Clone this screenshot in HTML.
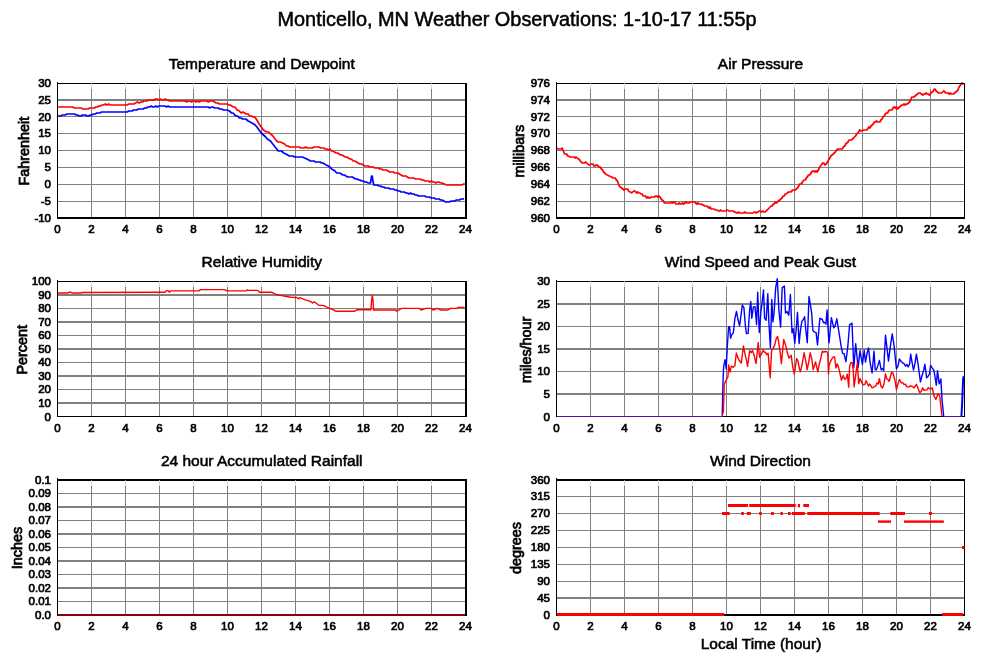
<!DOCTYPE html><html><head><meta charset="utf-8"><style>
html,body{margin:0;padding:0;background:#fff;width:999px;height:659px;overflow:hidden}
svg{display:block;will-change:transform} text{font-family:"Liberation Sans", sans-serif;fill:#000}
.t{font-size:15.5px;stroke:#000;stroke-width:0.55px}.yl{font-size:14.4px;stroke:#000;stroke-width:0.75px}.n{font-size:11.5px;stroke:#000;stroke-width:0.7px}.big{font-size:19.9px;stroke:#000;stroke-width:0.5px}
</style></head><body>
<svg width="999" height="659" viewBox="0 0 999 659">
<text x="517" y="26.3" text-anchor="middle" class="big">Monticello, MN Weather Observations: 1-10-17 11:55p</text>
<rect x="91" y="84" width="1" height="5" fill="#d8d8d8"/>
<rect x="91" y="89" width="1" height="128" fill="#808080"/>
<rect x="125" y="84" width="1" height="5" fill="#d8d8d8"/>
<rect x="125" y="89" width="1" height="128" fill="#808080"/>
<rect x="159" y="84" width="1" height="5" fill="#d8d8d8"/>
<rect x="159" y="89" width="1" height="128" fill="#808080"/>
<rect x="193" y="84" width="1" height="5" fill="#d8d8d8"/>
<rect x="193" y="89" width="1" height="128" fill="#808080"/>
<rect x="227" y="84" width="1" height="5" fill="#d8d8d8"/>
<rect x="227" y="89" width="1" height="128" fill="#808080"/>
<rect x="261" y="84" width="1" height="5" fill="#d8d8d8"/>
<rect x="261" y="89" width="1" height="128" fill="#808080"/>
<rect x="295" y="84" width="1" height="5" fill="#d8d8d8"/>
<rect x="295" y="89" width="1" height="128" fill="#808080"/>
<rect x="329" y="84" width="1" height="5" fill="#d8d8d8"/>
<rect x="329" y="89" width="1" height="128" fill="#808080"/>
<rect x="363" y="84" width="1" height="5" fill="#d8d8d8"/>
<rect x="363" y="89" width="1" height="128" fill="#808080"/>
<rect x="397" y="84" width="1" height="5" fill="#d8d8d8"/>
<rect x="397" y="89" width="1" height="128" fill="#808080"/>
<rect x="431" y="84" width="1" height="5" fill="#d8d8d8"/>
<rect x="431" y="89" width="1" height="128" fill="#808080"/>
<rect x="58" y="99" width="407" height="2" fill="#808080"/>
<rect x="58" y="116" width="407" height="1" fill="#808080"/>
<rect x="58" y="133" width="407" height="1" fill="#808080"/>
<rect x="58" y="150" width="407" height="1" fill="#808080"/>
<rect x="58" y="167" width="407" height="1" fill="#808080"/>
<rect x="58" y="184" width="407" height="1" fill="#808080"/>
<rect x="58" y="201" width="407" height="1" fill="#808080"/>
<text x="261.75" y="68.7" text-anchor="middle" class="t">Temperature and Dewpoint</text>
<text transform="translate(28.7,151.2) rotate(-90)" text-anchor="middle" class="yl">Fahrenheit</text>
<text x="51" y="87.0" text-anchor="end" class="n">30</text>
<text x="51" y="103.8" text-anchor="end" class="n">25</text>
<text x="51" y="120.6" text-anchor="end" class="n">20</text>
<text x="51" y="137.4" text-anchor="end" class="n">15</text>
<text x="51" y="154.2" text-anchor="end" class="n">10</text>
<text x="51" y="171.1" text-anchor="end" class="n">5</text>
<text x="51" y="187.9" text-anchor="end" class="n">0</text>
<text x="51" y="204.7" text-anchor="end" class="n">-5</text>
<text x="51" y="221.5" text-anchor="end" class="n">-10</text>
<text x="57.5" y="233.0" text-anchor="middle" class="n">0</text>
<text x="91.5" y="233.0" text-anchor="middle" class="n">2</text>
<text x="125.5" y="233.0" text-anchor="middle" class="n">4</text>
<text x="159.5" y="233.0" text-anchor="middle" class="n">6</text>
<text x="193.5" y="233.0" text-anchor="middle" class="n">8</text>
<text x="227.5" y="233.0" text-anchor="middle" class="n">10</text>
<text x="261.5" y="233.0" text-anchor="middle" class="n">12</text>
<text x="295.5" y="233.0" text-anchor="middle" class="n">14</text>
<text x="329.5" y="233.0" text-anchor="middle" class="n">16</text>
<text x="363.5" y="233.0" text-anchor="middle" class="n">18</text>
<text x="397.5" y="233.0" text-anchor="middle" class="n">20</text>
<text x="431.5" y="233.0" text-anchor="middle" class="n">22</text>
<text x="465.5" y="233.0" text-anchor="middle" class="n">24</text>
<rect x="590" y="84" width="1" height="5" fill="#d8d8d8"/>
<rect x="590" y="89" width="1" height="128" fill="#808080"/>
<rect x="624" y="84" width="1" height="5" fill="#d8d8d8"/>
<rect x="624" y="89" width="1" height="128" fill="#808080"/>
<rect x="658" y="84" width="1" height="5" fill="#d8d8d8"/>
<rect x="658" y="89" width="1" height="128" fill="#808080"/>
<rect x="692" y="84" width="1" height="5" fill="#d8d8d8"/>
<rect x="692" y="89" width="1" height="128" fill="#808080"/>
<rect x="726" y="84" width="1" height="5" fill="#d8d8d8"/>
<rect x="726" y="89" width="1" height="128" fill="#808080"/>
<rect x="760" y="84" width="1" height="5" fill="#d8d8d8"/>
<rect x="760" y="89" width="1" height="128" fill="#808080"/>
<rect x="794" y="84" width="1" height="5" fill="#d8d8d8"/>
<rect x="794" y="89" width="1" height="128" fill="#808080"/>
<rect x="828" y="84" width="1" height="5" fill="#d8d8d8"/>
<rect x="828" y="89" width="1" height="128" fill="#808080"/>
<rect x="862" y="84" width="1" height="5" fill="#d8d8d8"/>
<rect x="862" y="89" width="1" height="128" fill="#808080"/>
<rect x="896" y="84" width="1" height="5" fill="#d8d8d8"/>
<rect x="896" y="89" width="1" height="128" fill="#808080"/>
<rect x="930" y="84" width="1" height="5" fill="#d8d8d8"/>
<rect x="930" y="89" width="1" height="128" fill="#808080"/>
<rect x="557" y="99" width="407" height="2" fill="#808080"/>
<rect x="557" y="116" width="407" height="1" fill="#808080"/>
<rect x="557" y="133" width="407" height="1" fill="#808080"/>
<rect x="557" y="150" width="407" height="1" fill="#808080"/>
<rect x="557" y="167" width="407" height="1" fill="#808080"/>
<rect x="557" y="184" width="407" height="1" fill="#808080"/>
<rect x="557" y="201" width="407" height="1" fill="#808080"/>
<text x="760.5" y="68.7" text-anchor="middle" class="t">Air Pressure</text>
<text transform="translate(524.3,151.2) rotate(-90)" text-anchor="middle" class="yl">millibars</text>
<text x="550" y="87.0" text-anchor="end" class="n">976</text>
<text x="550" y="103.8" text-anchor="end" class="n">974</text>
<text x="550" y="120.6" text-anchor="end" class="n">972</text>
<text x="550" y="137.4" text-anchor="end" class="n">970</text>
<text x="550" y="154.2" text-anchor="end" class="n">968</text>
<text x="550" y="171.1" text-anchor="end" class="n">966</text>
<text x="550" y="187.9" text-anchor="end" class="n">964</text>
<text x="550" y="204.7" text-anchor="end" class="n">962</text>
<text x="550" y="221.5" text-anchor="end" class="n">960</text>
<text x="556.5" y="233.0" text-anchor="middle" class="n">0</text>
<text x="590.5" y="233.0" text-anchor="middle" class="n">2</text>
<text x="624.5" y="233.0" text-anchor="middle" class="n">4</text>
<text x="658.5" y="233.0" text-anchor="middle" class="n">6</text>
<text x="692.5" y="233.0" text-anchor="middle" class="n">8</text>
<text x="726.5" y="233.0" text-anchor="middle" class="n">10</text>
<text x="760.5" y="233.0" text-anchor="middle" class="n">12</text>
<text x="794.5" y="233.0" text-anchor="middle" class="n">14</text>
<text x="828.5" y="233.0" text-anchor="middle" class="n">16</text>
<text x="862.5" y="233.0" text-anchor="middle" class="n">18</text>
<text x="896.5" y="233.0" text-anchor="middle" class="n">20</text>
<text x="930.5" y="233.0" text-anchor="middle" class="n">22</text>
<text x="964.5" y="233.0" text-anchor="middle" class="n">24</text>
<rect x="91" y="282" width="1" height="5" fill="#d8d8d8"/>
<rect x="91" y="287" width="1" height="129" fill="#808080"/>
<rect x="125" y="282" width="1" height="5" fill="#d8d8d8"/>
<rect x="125" y="287" width="1" height="129" fill="#808080"/>
<rect x="159" y="282" width="1" height="5" fill="#d8d8d8"/>
<rect x="159" y="287" width="1" height="129" fill="#808080"/>
<rect x="193" y="282" width="1" height="5" fill="#d8d8d8"/>
<rect x="193" y="287" width="1" height="129" fill="#808080"/>
<rect x="227" y="282" width="1" height="5" fill="#d8d8d8"/>
<rect x="227" y="287" width="1" height="129" fill="#808080"/>
<rect x="261" y="282" width="1" height="5" fill="#d8d8d8"/>
<rect x="261" y="287" width="1" height="129" fill="#808080"/>
<rect x="295" y="282" width="1" height="5" fill="#d8d8d8"/>
<rect x="295" y="287" width="1" height="129" fill="#808080"/>
<rect x="329" y="282" width="1" height="5" fill="#d8d8d8"/>
<rect x="329" y="287" width="1" height="129" fill="#808080"/>
<rect x="363" y="282" width="1" height="5" fill="#d8d8d8"/>
<rect x="363" y="287" width="1" height="129" fill="#808080"/>
<rect x="397" y="282" width="1" height="5" fill="#d8d8d8"/>
<rect x="397" y="287" width="1" height="129" fill="#808080"/>
<rect x="431" y="282" width="1" height="5" fill="#d8d8d8"/>
<rect x="431" y="287" width="1" height="129" fill="#808080"/>
<rect x="58" y="294" width="407" height="2" fill="#808080"/>
<rect x="58" y="308" width="407" height="1" fill="#808080"/>
<rect x="58" y="321" width="407" height="2" fill="#808080"/>
<rect x="58" y="335" width="407" height="1" fill="#808080"/>
<rect x="58" y="348" width="407" height="2" fill="#808080"/>
<rect x="58" y="362" width="407" height="1" fill="#808080"/>
<rect x="58" y="375" width="407" height="2" fill="#808080"/>
<rect x="58" y="389" width="407" height="1" fill="#808080"/>
<rect x="58" y="402" width="407" height="2" fill="#808080"/>
<text x="261.75" y="267.3" text-anchor="middle" class="t">Relative Humidity</text>
<text transform="translate(26.7,349.8) rotate(-90)" text-anchor="middle" class="yl">Percent</text>
<text x="51" y="285.0" text-anchor="end" class="n">100</text>
<text x="51" y="298.6" text-anchor="end" class="n">90</text>
<text x="51" y="312.1" text-anchor="end" class="n">80</text>
<text x="51" y="325.6" text-anchor="end" class="n">70</text>
<text x="51" y="339.2" text-anchor="end" class="n">60</text>
<text x="51" y="352.8" text-anchor="end" class="n">50</text>
<text x="51" y="366.3" text-anchor="end" class="n">40</text>
<text x="51" y="379.9" text-anchor="end" class="n">30</text>
<text x="51" y="393.4" text-anchor="end" class="n">20</text>
<text x="51" y="406.9" text-anchor="end" class="n">10</text>
<text x="51" y="420.5" text-anchor="end" class="n">0</text>
<text x="57.5" y="432.0" text-anchor="middle" class="n">0</text>
<text x="91.5" y="432.0" text-anchor="middle" class="n">2</text>
<text x="125.5" y="432.0" text-anchor="middle" class="n">4</text>
<text x="159.5" y="432.0" text-anchor="middle" class="n">6</text>
<text x="193.5" y="432.0" text-anchor="middle" class="n">8</text>
<text x="227.5" y="432.0" text-anchor="middle" class="n">10</text>
<text x="261.5" y="432.0" text-anchor="middle" class="n">12</text>
<text x="295.5" y="432.0" text-anchor="middle" class="n">14</text>
<text x="329.5" y="432.0" text-anchor="middle" class="n">16</text>
<text x="363.5" y="432.0" text-anchor="middle" class="n">18</text>
<text x="397.5" y="432.0" text-anchor="middle" class="n">20</text>
<text x="431.5" y="432.0" text-anchor="middle" class="n">22</text>
<text x="465.5" y="432.0" text-anchor="middle" class="n">24</text>
<rect x="590" y="282" width="1" height="5" fill="#d8d8d8"/>
<rect x="590" y="287" width="1" height="129" fill="#808080"/>
<rect x="624" y="282" width="1" height="5" fill="#d8d8d8"/>
<rect x="624" y="287" width="1" height="129" fill="#808080"/>
<rect x="658" y="282" width="1" height="5" fill="#d8d8d8"/>
<rect x="658" y="287" width="1" height="129" fill="#808080"/>
<rect x="692" y="282" width="1" height="5" fill="#d8d8d8"/>
<rect x="692" y="287" width="1" height="129" fill="#808080"/>
<rect x="726" y="282" width="1" height="5" fill="#d8d8d8"/>
<rect x="726" y="287" width="1" height="129" fill="#808080"/>
<rect x="760" y="282" width="1" height="5" fill="#d8d8d8"/>
<rect x="760" y="287" width="1" height="129" fill="#808080"/>
<rect x="794" y="282" width="1" height="5" fill="#d8d8d8"/>
<rect x="794" y="287" width="1" height="129" fill="#808080"/>
<rect x="828" y="282" width="1" height="5" fill="#d8d8d8"/>
<rect x="828" y="287" width="1" height="129" fill="#808080"/>
<rect x="862" y="282" width="1" height="5" fill="#d8d8d8"/>
<rect x="862" y="287" width="1" height="129" fill="#808080"/>
<rect x="896" y="282" width="1" height="5" fill="#d8d8d8"/>
<rect x="896" y="287" width="1" height="129" fill="#808080"/>
<rect x="930" y="282" width="1" height="5" fill="#d8d8d8"/>
<rect x="930" y="287" width="1" height="129" fill="#808080"/>
<rect x="557" y="303" width="407" height="2" fill="#808080"/>
<rect x="557" y="326" width="407" height="1" fill="#808080"/>
<rect x="557" y="348" width="407" height="2" fill="#808080"/>
<rect x="557" y="371" width="407" height="1" fill="#808080"/>
<rect x="557" y="393" width="407" height="2" fill="#808080"/>
<text x="760.5" y="267.3" text-anchor="middle" class="t">Wind Speed and Peak Gust</text>
<text transform="translate(530.7,349.8) rotate(-90)" text-anchor="middle" class="yl">miles/hour</text>
<text x="550" y="285.0" text-anchor="end" class="n">30</text>
<text x="550" y="307.6" text-anchor="end" class="n">25</text>
<text x="550" y="330.2" text-anchor="end" class="n">20</text>
<text x="550" y="352.8" text-anchor="end" class="n">15</text>
<text x="550" y="375.3" text-anchor="end" class="n">10</text>
<text x="550" y="397.9" text-anchor="end" class="n">5</text>
<text x="550" y="420.5" text-anchor="end" class="n">0</text>
<text x="556.5" y="432.0" text-anchor="middle" class="n">0</text>
<text x="590.5" y="432.0" text-anchor="middle" class="n">2</text>
<text x="624.5" y="432.0" text-anchor="middle" class="n">4</text>
<text x="658.5" y="432.0" text-anchor="middle" class="n">6</text>
<text x="692.5" y="432.0" text-anchor="middle" class="n">8</text>
<text x="726.5" y="432.0" text-anchor="middle" class="n">10</text>
<text x="760.5" y="432.0" text-anchor="middle" class="n">12</text>
<text x="794.5" y="432.0" text-anchor="middle" class="n">14</text>
<text x="828.5" y="432.0" text-anchor="middle" class="n">16</text>
<text x="862.5" y="432.0" text-anchor="middle" class="n">18</text>
<text x="896.5" y="432.0" text-anchor="middle" class="n">20</text>
<text x="930.5" y="432.0" text-anchor="middle" class="n">22</text>
<text x="964.5" y="432.0" text-anchor="middle" class="n">24</text>
<rect x="91" y="481" width="1" height="5" fill="#d8d8d8"/>
<rect x="91" y="486" width="1" height="128" fill="#808080"/>
<rect x="125" y="481" width="1" height="5" fill="#d8d8d8"/>
<rect x="125" y="486" width="1" height="128" fill="#808080"/>
<rect x="159" y="481" width="1" height="5" fill="#d8d8d8"/>
<rect x="159" y="486" width="1" height="128" fill="#808080"/>
<rect x="193" y="481" width="1" height="5" fill="#d8d8d8"/>
<rect x="193" y="486" width="1" height="128" fill="#808080"/>
<rect x="227" y="481" width="1" height="5" fill="#d8d8d8"/>
<rect x="227" y="486" width="1" height="128" fill="#808080"/>
<rect x="261" y="481" width="1" height="5" fill="#d8d8d8"/>
<rect x="261" y="486" width="1" height="128" fill="#808080"/>
<rect x="295" y="481" width="1" height="5" fill="#d8d8d8"/>
<rect x="295" y="486" width="1" height="128" fill="#808080"/>
<rect x="329" y="481" width="1" height="5" fill="#d8d8d8"/>
<rect x="329" y="486" width="1" height="128" fill="#808080"/>
<rect x="363" y="481" width="1" height="5" fill="#d8d8d8"/>
<rect x="363" y="486" width="1" height="128" fill="#808080"/>
<rect x="397" y="481" width="1" height="5" fill="#d8d8d8"/>
<rect x="397" y="486" width="1" height="128" fill="#808080"/>
<rect x="431" y="481" width="1" height="5" fill="#d8d8d8"/>
<rect x="431" y="486" width="1" height="128" fill="#808080"/>
<rect x="58" y="493" width="407" height="1" fill="#808080"/>
<rect x="58" y="506" width="407" height="2" fill="#808080"/>
<rect x="58" y="520" width="407" height="1" fill="#808080"/>
<rect x="58" y="533" width="407" height="2" fill="#808080"/>
<rect x="58" y="547" width="407" height="1" fill="#808080"/>
<rect x="58" y="560" width="407" height="2" fill="#808080"/>
<rect x="58" y="574" width="407" height="1" fill="#808080"/>
<rect x="58" y="587" width="407" height="2" fill="#808080"/>
<rect x="58" y="601" width="407" height="1" fill="#808080"/>
<text x="261.75" y="465.9" text-anchor="middle" class="t">24 hour Accumulated Rainfall</text>
<text transform="translate(22.3,548.0) rotate(-90)" text-anchor="middle" class="yl">Inches</text>
<text x="51" y="483.5" text-anchor="end" class="n">0.1</text>
<text x="51" y="497.0" text-anchor="end" class="n">0.09</text>
<text x="51" y="510.5" text-anchor="end" class="n">0.08</text>
<text x="51" y="524.0" text-anchor="end" class="n">0.07</text>
<text x="51" y="537.5" text-anchor="end" class="n">0.06</text>
<text x="51" y="551.0" text-anchor="end" class="n">0.05</text>
<text x="51" y="564.5" text-anchor="end" class="n">0.04</text>
<text x="51" y="578.0" text-anchor="end" class="n">0.03</text>
<text x="51" y="591.5" text-anchor="end" class="n">0.02</text>
<text x="51" y="605.0" text-anchor="end" class="n">0.01</text>
<text x="51" y="618.5" text-anchor="end" class="n">0.0</text>
<text x="57.5" y="630.0" text-anchor="middle" class="n">0</text>
<text x="91.5" y="630.0" text-anchor="middle" class="n">2</text>
<text x="125.5" y="630.0" text-anchor="middle" class="n">4</text>
<text x="159.5" y="630.0" text-anchor="middle" class="n">6</text>
<text x="193.5" y="630.0" text-anchor="middle" class="n">8</text>
<text x="227.5" y="630.0" text-anchor="middle" class="n">10</text>
<text x="261.5" y="630.0" text-anchor="middle" class="n">12</text>
<text x="295.5" y="630.0" text-anchor="middle" class="n">14</text>
<text x="329.5" y="630.0" text-anchor="middle" class="n">16</text>
<text x="363.5" y="630.0" text-anchor="middle" class="n">18</text>
<text x="397.5" y="630.0" text-anchor="middle" class="n">20</text>
<text x="431.5" y="630.0" text-anchor="middle" class="n">22</text>
<text x="465.5" y="630.0" text-anchor="middle" class="n">24</text>
<rect x="590" y="481" width="1" height="5" fill="#d8d8d8"/>
<rect x="590" y="486" width="1" height="128" fill="#808080"/>
<rect x="624" y="481" width="1" height="5" fill="#d8d8d8"/>
<rect x="624" y="486" width="1" height="128" fill="#808080"/>
<rect x="658" y="481" width="1" height="5" fill="#d8d8d8"/>
<rect x="658" y="486" width="1" height="128" fill="#808080"/>
<rect x="692" y="481" width="1" height="5" fill="#d8d8d8"/>
<rect x="692" y="486" width="1" height="128" fill="#808080"/>
<rect x="726" y="481" width="1" height="5" fill="#d8d8d8"/>
<rect x="726" y="486" width="1" height="128" fill="#808080"/>
<rect x="760" y="481" width="1" height="5" fill="#d8d8d8"/>
<rect x="760" y="486" width="1" height="128" fill="#808080"/>
<rect x="794" y="481" width="1" height="5" fill="#d8d8d8"/>
<rect x="794" y="486" width="1" height="128" fill="#808080"/>
<rect x="828" y="481" width="1" height="5" fill="#d8d8d8"/>
<rect x="828" y="486" width="1" height="128" fill="#808080"/>
<rect x="862" y="481" width="1" height="5" fill="#d8d8d8"/>
<rect x="862" y="486" width="1" height="128" fill="#808080"/>
<rect x="896" y="481" width="1" height="5" fill="#d8d8d8"/>
<rect x="896" y="486" width="1" height="128" fill="#808080"/>
<rect x="930" y="481" width="1" height="5" fill="#d8d8d8"/>
<rect x="930" y="486" width="1" height="128" fill="#808080"/>
<rect x="557" y="496" width="407" height="1" fill="#808080"/>
<rect x="557" y="513" width="407" height="1" fill="#808080"/>
<rect x="557" y="530" width="407" height="1" fill="#808080"/>
<rect x="557" y="547" width="407" height="1" fill="#808080"/>
<rect x="557" y="564" width="407" height="1" fill="#808080"/>
<rect x="557" y="581" width="407" height="1" fill="#808080"/>
<rect x="557" y="597" width="407" height="2" fill="#808080"/>
<text x="760.5" y="465.9" text-anchor="middle" class="t">Wind Direction</text>
<text transform="translate(520.5,548.0) rotate(-90)" text-anchor="middle" class="yl">degrees</text>
<text x="550" y="483.5" text-anchor="end" class="n">360</text>
<text x="550" y="500.4" text-anchor="end" class="n">315</text>
<text x="550" y="517.2" text-anchor="end" class="n">270</text>
<text x="550" y="534.1" text-anchor="end" class="n">225</text>
<text x="550" y="551.0" text-anchor="end" class="n">180</text>
<text x="550" y="567.9" text-anchor="end" class="n">135</text>
<text x="550" y="584.8" text-anchor="end" class="n">90</text>
<text x="550" y="601.6" text-anchor="end" class="n">45</text>
<text x="550" y="618.5" text-anchor="end" class="n">0</text>
<text x="556.5" y="630.0" text-anchor="middle" class="n">0</text>
<text x="590.5" y="630.0" text-anchor="middle" class="n">2</text>
<text x="624.5" y="630.0" text-anchor="middle" class="n">4</text>
<text x="658.5" y="630.0" text-anchor="middle" class="n">6</text>
<text x="692.5" y="630.0" text-anchor="middle" class="n">8</text>
<text x="726.5" y="630.0" text-anchor="middle" class="n">10</text>
<text x="760.5" y="630.0" text-anchor="middle" class="n">12</text>
<text x="794.5" y="630.0" text-anchor="middle" class="n">14</text>
<text x="828.5" y="630.0" text-anchor="middle" class="n">16</text>
<text x="862.5" y="630.0" text-anchor="middle" class="n">18</text>
<text x="896.5" y="630.0" text-anchor="middle" class="n">20</text>
<text x="930.5" y="630.0" text-anchor="middle" class="n">22</text>
<text x="964.5" y="630.0" text-anchor="middle" class="n">24</text>
<polyline points="58.0,107.0 59.2,107.0 60.9,107.0 62.6,107.0 64.2,107.0 65.9,107.0 67.6,107.0 69.3,107.0 71.0,107.0 72.6,107.0 74.3,108.0 76.0,108.0 77.8,108.0 79.5,108.0 81.2,108.0 83.0,109.0 84.7,109.0 86.3,109.0 88.0,109.0 89.7,108.0 91.3,108.0 92.8,108.0 94.4,108.0 95.9,107.0 97.5,107.0 99.0,106.0 100.5,106.0 102.0,105.0 103.5,105.0 105.2,104.0 106.8,105.0 108.5,104.0 110.1,105.0 111.8,105.0 113.4,105.0 115.0,105.0 116.7,105.0 118.5,105.0 120.2,105.0 122.0,105.0 123.7,105.0 125.5,105.0 127.1,105.0 128.8,104.0 130.4,104.0 132.0,104.0 133.8,104.0 135.6,103.0 137.3,102.0 139.1,103.0 140.9,102.0 142.4,102.0 144.0,101.0 145.5,101.0 147.1,101.0 148.6,100.0 150.4,100.0 152.2,100.0 154.0,100.0 155.6,99.0 157.1,99.0 158.7,100.0 160.3,99.0 161.9,100.0 163.4,100.0 165.0,99.0 166.5,100.0 168.0,100.0 169.5,101.0 171.0,101.0 172.6,101.0 174.1,101.0 175.7,101.0 177.3,101.0 178.9,101.0 180.4,101.0 182.0,101.0 183.6,101.0 185.1,101.0 186.7,102.0 188.3,101.0 189.9,101.0 191.4,102.0 193.0,101.0 194.5,101.0 196.1,102.0 197.6,101.0 199.1,102.0 200.7,101.0 202.2,101.0 203.7,101.0 205.2,101.0 206.8,101.0 208.3,102.0 209.8,101.0 211.4,101.0 212.9,101.0 214.6,102.0 216.2,103.0 217.8,103.0 219.5,104.0 221.0,104.0 222.6,104.0 224.1,104.0 225.7,104.0 227.2,104.0 228.7,105.0 230.3,105.0 231.8,106.0 233.4,107.0 234.9,107.0 237.1,110.0 239.3,111.0 241.1,113.0 242.8,112.0 244.6,113.0 246.3,114.0 248.1,114.0 249.8,116.0 251.4,116.0 253.0,117.0 254.7,117.0 256.9,120.0 259.1,124.0 261.3,127.0 263.5,130.0 265.0,131.0 266.8,132.0 268.7,132.0 270.5,134.0 272.0,135.0 273.6,137.0 275.1,139.0 276.7,141.0 278.2,142.0 280.4,142.0 282.6,143.0 284.6,144.0 286.5,146.0 288.1,146.0 289.6,147.0 291.1,147.0 292.7,147.0 294.2,147.0 295.8,147.0 297.4,147.0 299.1,147.0 300.8,148.0 302.4,148.0 304.1,148.0 305.7,147.0 307.4,148.0 309.0,148.0 310.7,148.0 312.3,148.0 314.0,147.0 315.7,147.0 317.3,147.0 319.0,147.0 320.6,148.0 322.1,148.0 323.7,148.0 325.3,149.0 326.9,149.0 328.4,150.0 330.0,149.0 331.5,151.0 333.0,151.0 334.5,152.0 336.1,153.0 337.6,153.0 339.1,154.0 340.6,155.0 342.1,155.0 343.7,156.0 345.2,157.0 346.8,157.0 348.4,158.0 350.0,159.0 351.5,159.0 353.1,161.0 354.8,161.0 356.5,162.0 358.2,163.0 359.9,164.0 361.6,164.0 363.3,165.0 365.0,166.0 366.6,166.0 368.3,166.0 370.0,167.0 371.6,167.0 373.2,167.0 374.9,168.0 376.6,168.0 378.2,168.0 379.9,169.0 381.5,169.0 383.1,170.0 384.8,170.0 386.4,170.0 388.1,171.0 389.8,172.0 391.4,172.0 393.1,172.0 394.7,173.0 396.3,173.0 397.9,173.0 399.5,174.0 401.1,175.0 402.6,176.0 404.2,176.0 405.8,176.0 407.4,177.0 409.0,178.0 410.6,178.0 412.1,178.0 413.7,178.0 415.3,179.0 416.9,179.0 418.4,179.0 420.0,179.0 421.7,180.0 423.4,180.0 425.0,181.0 426.7,181.0 428.2,181.0 429.8,182.0 431.3,181.0 432.9,182.0 434.4,182.0 435.9,183.0 437.5,182.0 439.0,182.0 440.6,183.0 442.1,183.0 444.3,184.0 446.5,185.0 448.0,185.0 449.6,185.0 451.1,185.0 452.7,185.0 454.2,185.0 455.7,185.0 457.3,185.0 458.8,185.0 460.4,185.0 461.9,185.0 464.7,183.6" fill="none" stroke="#ff0000" stroke-width="1.7" stroke-linejoin="round"/>
<polyline points="58.0,116.0 59.2,116.0 60.7,116.0 62.3,115.0 63.8,115.0 65.3,115.0 66.9,114.0 68.4,114.0 70.0,114.0 71.5,114.0 73.0,114.0 74.6,114.0 76.1,115.0 77.7,115.0 79.2,116.0 80.8,116.0 82.3,115.0 83.9,115.0 85.5,115.0 87.1,116.0 88.6,116.0 90.2,115.0 91.8,115.0 93.5,114.0 95.2,114.0 96.8,113.0 98.4,113.0 99.9,113.0 101.5,112.0 103.0,112.0 104.6,112.0 106.1,112.0 107.6,112.0 109.1,112.0 110.7,112.0 112.2,112.0 113.7,112.0 115.2,112.0 116.7,112.0 118.5,112.0 120.2,112.0 122.0,112.0 123.7,112.0 125.5,112.0 127.1,112.0 128.8,111.0 130.4,111.0 132.0,111.0 133.6,110.0 135.2,110.0 136.8,110.0 138.3,109.0 139.9,109.0 141.5,109.0 143.1,109.0 144.8,108.0 146.4,108.0 148.0,107.0 149.7,107.0 151.2,106.0 152.8,107.0 154.3,107.0 155.8,106.0 157.3,107.0 158.9,106.0 160.4,106.0 161.9,106.0 163.5,106.0 165.0,106.0 166.5,107.0 168.1,106.0 169.6,107.0 171.2,107.0 172.7,107.0 174.3,107.0 175.8,107.0 177.4,107.0 178.9,107.0 180.5,107.0 182.0,107.0 183.5,107.0 185.0,107.0 186.5,107.0 188.0,107.0 189.5,107.0 191.0,107.0 192.5,107.0 194.0,107.0 195.5,107.0 197.0,107.0 198.5,107.0 200.1,107.0 201.7,107.0 203.3,107.0 204.9,107.0 206.5,107.0 208.1,107.0 209.7,108.0 211.3,107.0 212.9,107.0 214.7,108.0 216.4,108.0 218.2,108.0 219.9,109.0 221.7,109.0 223.5,110.0 225.4,110.0 227.2,110.0 229.4,111.0 231.6,113.0 233.1,113.0 234.7,115.0 236.2,116.0 237.8,116.0 239.3,118.0 241.0,118.0 242.6,119.0 244.2,119.0 245.9,119.0 248.1,121.0 250.3,122.0 251.9,123.0 253.6,124.0 255.2,125.0 256.9,127.0 259.1,130.0 261.3,133.0 263.5,135.0 265.7,137.0 267.3,139.0 268.9,140.0 270.5,141.0 272.0,143.0 273.6,145.0 275.1,147.0 276.7,149.0 278.2,151.0 279.9,151.0 281.5,151.0 283.7,153.0 285.9,154.0 287.7,155.0 289.4,156.0 291.2,156.0 292.9,156.0 294.7,157.0 296.2,157.0 297.8,157.0 299.3,157.0 300.9,157.0 302.4,157.0 304.6,158.0 306.8,159.0 308.7,160.0 310.5,161.0 312.4,161.0 313.9,161.0 315.4,162.0 317.0,162.0 318.5,162.0 320.0,162.0 321.5,163.0 323.0,163.0 324.5,164.0 326.3,165.0 328.2,166.0 330.0,167.0 331.6,169.0 333.3,170.0 335.0,171.0 336.6,173.0 338.2,173.0 339.7,173.0 341.3,174.0 342.9,175.0 344.5,175.0 346.0,176.0 347.6,177.0 349.2,177.0 350.7,177.0 352.3,177.0 353.9,178.0 355.5,179.0 357.0,179.0 358.6,180.0 360.1,180.0 361.7,181.0 363.2,181.0 364.8,182.0 366.3,182.0 368.4,183.0 370.5,183.0 371.6,176.0 372.2,176.0 372.8,180.0 373.8,185.0 375.4,185.0 377.1,185.0 378.8,186.0 380.4,186.0 382.1,187.0 383.7,187.0 385.4,188.0 387.0,188.0 388.6,188.0 390.1,189.0 391.7,189.0 393.3,189.0 394.9,190.0 396.4,190.0 398.0,191.0 399.6,191.0 401.1,192.0 402.7,192.0 404.3,192.0 405.9,193.0 407.4,193.0 409.0,194.0 410.6,193.0 412.1,194.0 413.7,194.0 415.3,195.0 416.9,195.0 418.4,196.0 420.0,196.0 421.6,196.0 423.2,196.0 424.8,196.0 426.3,197.0 427.9,197.0 429.5,197.0 431.1,198.0 432.7,198.0 434.2,198.0 435.8,199.0 437.4,199.0 439.0,199.0 440.5,200.0 442.1,200.0 443.9,201.0 445.8,202.0 447.6,202.0 449.4,202.0 451.1,201.0 452.9,201.0 454.6,201.0 456.4,200.0 457.9,200.0 459.5,200.0 461.0,199.0 462.6,199.0 464.1,198.8" fill="none" stroke="#0000ff" stroke-width="1.7" stroke-linejoin="round"/>
<polyline points="557.0,148.0 558.0,149.0 559.0,149.0 560.1,149.0 561.1,149.0 562.1,148.0 563.4,151.0 564.6,154.0 565.6,154.0 566.7,154.0 567.7,156.0 568.7,156.0 569.7,157.0 570.8,157.0 571.8,157.0 572.9,157.0 574.0,157.0 575.0,158.0 576.1,157.0 577.1,158.0 578.1,159.0 579.1,159.0 580.2,161.0 581.2,162.0 582.3,163.0 583.4,163.0 584.6,163.0 585.8,162.0 586.8,163.0 587.8,164.0 588.8,165.0 589.8,165.0 590.9,164.0 591.9,164.0 592.9,164.0 593.9,166.0 594.9,166.0 596.0,165.0 597.0,165.0 598.1,166.0 599.2,167.0 600.3,167.0 601.4,169.0 602.5,170.0 603.6,172.0 604.7,173.0 605.8,174.0 606.8,175.0 607.8,175.0 608.8,176.0 609.9,176.0 610.9,177.0 611.9,177.0 613.0,178.0 614.1,178.0 615.2,178.0 616.3,180.0 617.4,181.0 619.2,186.0 620.4,187.0 621.6,188.0 622.8,189.0 624.0,190.0 625.2,189.0 626.5,189.0 627.7,189.0 628.7,191.0 629.7,192.0 630.7,192.0 631.7,193.0 632.7,192.0 633.7,191.0 634.7,191.0 635.8,192.0 636.8,193.0 637.9,192.0 638.9,193.0 640.0,193.0 641.0,194.0 642.1,194.0 643.3,196.0 644.4,196.0 645.5,196.0 646.6,198.0 647.8,197.0 648.9,198.0 650.0,198.0 651.1,197.0 652.2,197.0 653.4,197.0 654.5,197.0 655.6,196.0 656.7,196.0 657.8,197.0 658.9,196.0 660.0,197.0 661.1,199.0 662.2,200.0 663.3,201.0 664.4,203.0 665.4,203.0 666.5,203.0 667.5,203.0 668.6,203.0 669.6,203.0 670.6,203.0 671.7,202.0 672.7,203.0 673.8,202.0 674.8,202.0 675.9,204.0 677.0,204.0 678.1,204.0 679.2,203.0 680.3,204.0 681.4,204.0 682.5,203.0 683.6,204.0 684.7,203.0 685.8,202.0 686.9,203.0 688.0,203.0 689.1,203.0 690.2,202.0 691.3,202.0 692.4,202.0 693.5,202.0 694.6,202.0 695.7,203.0 696.8,204.0 697.9,203.0 699.0,204.0 700.1,204.0 701.3,204.0 702.4,205.0 703.5,205.0 704.6,206.0 705.7,206.0 706.8,206.0 707.9,207.0 709.0,208.0 710.1,207.0 711.2,209.0 712.3,209.0 713.3,209.0 714.3,209.0 715.3,210.0 716.3,210.0 717.3,210.0 718.3,211.0 719.4,211.0 720.4,210.0 721.5,211.0 722.5,211.0 723.6,211.0 724.6,211.0 725.7,211.0 726.7,210.0 727.8,210.0 728.8,211.0 729.9,211.0 731.0,211.0 732.1,211.0 733.2,211.0 734.3,212.0 735.4,212.0 736.5,213.0 737.6,213.0 738.7,212.0 739.7,213.0 740.8,213.0 741.8,213.0 742.8,213.0 743.8,213.0 744.9,212.0 745.9,213.0 746.9,213.0 747.9,213.0 749.0,213.0 750.0,213.0 751.0,213.0 752.0,213.0 753.1,213.0 754.1,212.0 755.1,212.0 756.1,213.0 757.2,212.0 758.2,212.0 759.2,211.0 760.2,211.0 761.5,212.0 762.8,211.0 764.1,212.0 765.1,212.0 766.1,211.0 767.2,210.0 768.2,209.0 769.2,208.0 770.2,207.0 771.2,206.0 772.2,206.0 773.2,204.0 774.2,204.0 775.2,202.0 776.2,203.0 777.4,202.0 778.5,201.0 779.7,200.0 780.8,199.0 782.0,198.0 783.1,196.0 784.2,196.0 785.2,194.0 786.3,194.0 787.3,193.0 788.4,192.0 789.5,192.0 790.7,192.0 791.8,191.0 792.9,190.0 794.1,190.0 795.2,190.0 796.3,189.0 797.5,188.0 798.6,186.0 799.7,184.0 800.9,184.0 802.0,183.0 803.1,181.0 804.1,180.0 805.2,180.0 806.3,178.0 807.4,177.0 808.4,175.0 809.5,175.0 810.6,174.0 811.6,172.0 812.7,171.0 813.8,171.0 815.0,172.0 816.1,171.0 817.2,172.0 818.3,170.0 819.3,168.0 820.4,166.0 821.4,165.0 822.5,163.0 823.8,163.0 825.0,165.0 826.3,164.0 827.4,162.0 828.6,160.0 829.8,158.0 830.9,156.0 832.0,155.0 833.2,154.0 834.3,153.0 835.4,152.0 836.6,150.0 837.7,149.0 838.9,149.0 840.0,149.0 841.1,149.0 842.3,149.0 843.4,147.0 844.6,146.0 845.7,144.0 846.8,143.0 848.0,142.0 849.1,140.0 850.2,140.0 851.4,140.0 852.5,139.0 853.6,138.0 854.6,137.0 855.6,136.0 856.7,134.0 857.7,133.0 858.7,132.0 859.7,130.0 860.9,131.0 862.0,131.0 863.2,130.0 864.4,130.0 865.5,130.0 866.6,130.0 867.7,129.0 868.8,127.0 869.9,128.0 871.0,126.0 872.1,125.0 873.2,124.0 874.3,122.0 875.4,122.0 876.5,121.0 877.6,122.0 878.7,122.0 879.8,122.0 880.9,120.0 882.0,119.0 883.1,117.0 884.2,116.0 885.3,114.0 886.4,113.0 887.5,113.0 888.6,111.0 889.7,110.0 890.8,110.0 891.9,110.0 893.0,108.0 894.1,107.0 895.2,108.0 896.3,107.0 897.4,109.0 898.5,108.0 899.6,107.0 900.7,106.0 901.8,105.0 902.9,105.0 904.0,104.0 905.2,105.0 906.3,104.0 907.4,104.0 908.5,103.0 909.6,102.0 910.7,100.0 911.8,97.0 912.9,97.0 914.0,97.0 915.1,96.0 916.2,95.0 917.5,94.0 918.7,93.0 920.0,93.0 921.4,94.0 922.8,95.0 923.9,94.0 925.0,94.0 926.1,93.0 927.2,94.0 928.3,94.0 929.4,95.0 930.5,94.0 931.6,92.0 932.7,92.0 933.8,90.0 934.9,89.0 936.2,91.0 937.4,92.0 938.7,93.0 939.7,93.0 940.7,93.0 941.7,93.0 942.7,92.0 943.7,91.0 944.8,92.0 945.9,93.0 947.0,93.0 948.1,93.0 949.2,94.0 950.3,93.0 951.4,94.0 952.5,94.0 953.6,94.0 954.7,93.0 955.8,92.0 956.9,91.0 958.0,90.0 959.1,87.0 960.5,85.0 961.9,83.0 963.5,84.4" fill="none" stroke="#ff0000" stroke-width="1.7" stroke-linejoin="round"/>
<polyline points="58.0,293.0 68.0,293.0 69.0,292.2 71.0,292.2 72.0,293.0 81.0,293.0 82.0,292.5 160.0,292.3 165.0,292.3 166.5,290.6 168.0,290.6 169.5,292.2 170.5,290.9 198.9,290.9 200.5,289.6 224.1,289.6 227.3,290.9 246.2,290.9 247.3,289.7 248.3,290.4 257.8,290.4 259.4,292.3 272.1,292.3 276.8,294.8 283.1,295.9 290.5,297.2 296.8,297.5 298.9,298.8 300.0,297.7 305.2,299.8 310.5,301.4 312.6,303.0 314.2,301.7 318.9,305.3 324.2,305.6 327.3,307.5 333.6,309.8 335.7,311.2 354.6,311.2 356.7,309.8 371.0,309.8 371.6,300.0 372.3,295.5 373.0,300.0 373.5,310.0 396.0,310.0 396.3,311.1 401.8,308.4 419.5,308.4 421.1,310.0 426.0,308.4 431.6,308.4 433.2,310.0 437.1,308.4 441.5,310.0 448.1,310.0 450.3,308.4 456.9,308.4 458.0,307.4 464.6,307.4" fill="none" stroke="#ff0000" stroke-width="1.4" stroke-linejoin="round"/>
<rect x="57" y="83" width="410" height="1" fill="#000"/>
<rect x="57" y="217" width="410" height="2" fill="#000"/>
<rect x="57" y="82" width="1" height="137" fill="#000"/>
<rect x="465" y="83" width="2" height="136" fill="#000"/>
<rect x="91" y="83" width="1" height="1" fill="#9a9a9a"/>
<rect x="125" y="83" width="1" height="1" fill="#9a9a9a"/>
<rect x="159" y="83" width="1" height="1" fill="#9a9a9a"/>
<rect x="193" y="83" width="1" height="1" fill="#9a9a9a"/>
<rect x="227" y="83" width="1" height="1" fill="#9a9a9a"/>
<rect x="261" y="83" width="1" height="1" fill="#9a9a9a"/>
<rect x="295" y="83" width="1" height="1" fill="#9a9a9a"/>
<rect x="329" y="83" width="1" height="1" fill="#9a9a9a"/>
<rect x="363" y="83" width="1" height="1" fill="#9a9a9a"/>
<rect x="397" y="83" width="1" height="1" fill="#9a9a9a"/>
<rect x="431" y="83" width="1" height="1" fill="#9a9a9a"/>
<rect x="556" y="83" width="409" height="1" fill="#000"/>
<rect x="556" y="217" width="409" height="2" fill="#000"/>
<rect x="556" y="82" width="1" height="137" fill="#000"/>
<rect x="964" y="83" width="1" height="136" fill="#000"/>
<rect x="590" y="83" width="1" height="1" fill="#9a9a9a"/>
<rect x="624" y="83" width="1" height="1" fill="#9a9a9a"/>
<rect x="658" y="83" width="1" height="1" fill="#9a9a9a"/>
<rect x="692" y="83" width="1" height="1" fill="#9a9a9a"/>
<rect x="726" y="83" width="1" height="1" fill="#9a9a9a"/>
<rect x="760" y="83" width="1" height="1" fill="#9a9a9a"/>
<rect x="794" y="83" width="1" height="1" fill="#9a9a9a"/>
<rect x="828" y="83" width="1" height="1" fill="#9a9a9a"/>
<rect x="862" y="83" width="1" height="1" fill="#9a9a9a"/>
<rect x="896" y="83" width="1" height="1" fill="#9a9a9a"/>
<rect x="930" y="83" width="1" height="1" fill="#9a9a9a"/>
<rect x="57" y="281" width="410" height="1" fill="#000"/>
<rect x="57" y="416" width="410" height="1" fill="#000"/>
<rect x="57" y="280" width="1" height="137" fill="#000"/>
<rect x="465" y="281" width="2" height="136" fill="#000"/>
<rect x="91" y="281" width="1" height="1" fill="#9a9a9a"/>
<rect x="125" y="281" width="1" height="1" fill="#9a9a9a"/>
<rect x="159" y="281" width="1" height="1" fill="#9a9a9a"/>
<rect x="193" y="281" width="1" height="1" fill="#9a9a9a"/>
<rect x="227" y="281" width="1" height="1" fill="#9a9a9a"/>
<rect x="261" y="281" width="1" height="1" fill="#9a9a9a"/>
<rect x="295" y="281" width="1" height="1" fill="#9a9a9a"/>
<rect x="329" y="281" width="1" height="1" fill="#9a9a9a"/>
<rect x="363" y="281" width="1" height="1" fill="#9a9a9a"/>
<rect x="397" y="281" width="1" height="1" fill="#9a9a9a"/>
<rect x="431" y="281" width="1" height="1" fill="#9a9a9a"/>
<rect x="556" y="281" width="409" height="1" fill="#000"/>
<rect x="556" y="416" width="409" height="1" fill="#000"/>
<rect x="556" y="280" width="1" height="137" fill="#000"/>
<rect x="964" y="281" width="1" height="136" fill="#000"/>
<rect x="590" y="281" width="1" height="1" fill="#9a9a9a"/>
<rect x="624" y="281" width="1" height="1" fill="#9a9a9a"/>
<rect x="658" y="281" width="1" height="1" fill="#9a9a9a"/>
<rect x="692" y="281" width="1" height="1" fill="#9a9a9a"/>
<rect x="726" y="281" width="1" height="1" fill="#9a9a9a"/>
<rect x="760" y="281" width="1" height="1" fill="#9a9a9a"/>
<rect x="794" y="281" width="1" height="1" fill="#9a9a9a"/>
<rect x="828" y="281" width="1" height="1" fill="#9a9a9a"/>
<rect x="862" y="281" width="1" height="1" fill="#9a9a9a"/>
<rect x="896" y="281" width="1" height="1" fill="#9a9a9a"/>
<rect x="930" y="281" width="1" height="1" fill="#9a9a9a"/>
<rect x="57" y="479" width="410" height="2" fill="#000"/>
<rect x="57" y="614" width="410" height="2" fill="#000"/>
<rect x="57" y="478" width="1" height="138" fill="#000"/>
<rect x="465" y="479" width="2" height="137" fill="#000"/>
<rect x="91" y="480" width="1" height="1" fill="#9a9a9a"/>
<rect x="125" y="480" width="1" height="1" fill="#9a9a9a"/>
<rect x="159" y="480" width="1" height="1" fill="#9a9a9a"/>
<rect x="193" y="480" width="1" height="1" fill="#9a9a9a"/>
<rect x="227" y="480" width="1" height="1" fill="#9a9a9a"/>
<rect x="261" y="480" width="1" height="1" fill="#9a9a9a"/>
<rect x="295" y="480" width="1" height="1" fill="#9a9a9a"/>
<rect x="329" y="480" width="1" height="1" fill="#9a9a9a"/>
<rect x="363" y="480" width="1" height="1" fill="#9a9a9a"/>
<rect x="397" y="480" width="1" height="1" fill="#9a9a9a"/>
<rect x="431" y="480" width="1" height="1" fill="#9a9a9a"/>
<rect x="556" y="479" width="409" height="2" fill="#000"/>
<rect x="556" y="614" width="409" height="2" fill="#000"/>
<rect x="556" y="478" width="1" height="138" fill="#000"/>
<rect x="964" y="479" width="1" height="137" fill="#000"/>
<rect x="590" y="480" width="1" height="1" fill="#9a9a9a"/>
<rect x="624" y="480" width="1" height="1" fill="#9a9a9a"/>
<rect x="658" y="480" width="1" height="1" fill="#9a9a9a"/>
<rect x="692" y="480" width="1" height="1" fill="#9a9a9a"/>
<rect x="726" y="480" width="1" height="1" fill="#9a9a9a"/>
<rect x="760" y="480" width="1" height="1" fill="#9a9a9a"/>
<rect x="794" y="480" width="1" height="1" fill="#9a9a9a"/>
<rect x="828" y="480" width="1" height="1" fill="#9a9a9a"/>
<rect x="862" y="480" width="1" height="1" fill="#9a9a9a"/>
<rect x="896" y="480" width="1" height="1" fill="#9a9a9a"/>
<rect x="930" y="480" width="1" height="1" fill="#9a9a9a"/>
<rect x="58" y="614" width="407" height="2" fill="#8b0000"/>
<rect x="557" y="416" width="166" height="1" fill="#5a10a8"/>
<rect x="943.5" y="416" width="18.5" height="1" fill="#5a10a8"/>
<polyline points="722.2,415.8 722.9,385.4 723.6,366.7 725.1,359.6 726.2,368.9 727.2,348.3 728.6,327.0 729.6,326.7 730.6,338.2 731.7,334.9 733.3,333.0 734.9,318.3 736.5,311.4 738.0,319.8 739.6,325.9 741.2,313.6 742.3,305.0 743.9,307.7 745.5,327.1 746.5,333.6 748.1,333.4 749.7,309.5 750.8,301.4 751.8,318.2 753.4,306.9 755.0,306.8 756.6,324.6 757.7,292.2 759.3,332.5 760.9,312.2 762.5,298.7 763.5,290.0 764.6,318.4 766.2,320.3 767.8,293.7 768.8,321.0 770.4,347.8 771.8,299.5 772.9,321.9 774.0,313.4 775.7,287.6 777.3,278.6 778.9,310.1 780.6,327.1 782.2,287.6 784.4,286.1 785.5,313.1 787.1,311.6 788.8,315.2 790.4,294.4 792.0,332.9 793.1,328.6 794.8,343.2 796.1,330.1 797.5,312.4 799.1,343.5 800.5,329.8 801.9,321.4 803.2,319.8 804.6,316.7 806.0,331.8 807.3,342.7 809.0,296.5 810.4,304.7 811.7,313.4 812.8,330.3 814.5,332.2 816.1,332.7 817.5,344.9 819.9,318.3 822.3,319.5 823.5,322.7 824.7,322.4 825.9,324.2 827.1,309.9 828.1,330.3 829.0,342.9 831.4,317.6 833.8,327.8 835.3,325.2 836.8,318.8 838.7,330.7 841.1,346.2 842.6,353.4 844.1,353.8 845.9,361.7 847.8,346.7 849.6,324.8 852.0,323.2 853.8,367.5 855.7,343.7 858.1,367.3 860.0,350.7 862.4,364.3 864.2,350.5 865.5,362.1 867.0,353.6 868.5,348.0 870.3,363.6 872.1,372.9 874.0,351.2 875.2,369.7 876.4,369.7 877.9,365.4 879.4,360.4 881.2,369.8 882.5,368.5 883.7,370.6 885.5,335.1 887.3,350.6 888.5,361.1 889.7,351.3 891.0,341.9 892.2,333.9 894.0,345.2 896.4,368.8 897.9,366.3 899.4,359.0 901.0,361.3 902.5,362.8 904.0,363.5 905.5,366.2 906.9,364.5 908.2,367.0 909.6,363.9 910.7,354.2 912.1,362.6 913.5,370.1 915.0,363.3 916.4,354.2 918.1,364.1 920.4,382.0 921.9,376.0 923.4,371.6 924.9,364.2 926.6,377.7 928.0,376.4 929.5,374.0 930.6,365.4 932.3,368.1 934.0,370.5 936.3,385.2 937.5,370.6 939.2,383.9 940.9,379.0 942.0,399.6 943.7,416.2" fill="none" stroke="#0000ff" stroke-width="1.4" stroke-linejoin="round"/>
<polyline points="961.4,416.2 962.0,406.5 963.1,379.2 963.7,376.3" fill="none" stroke="#0000ff" stroke-width="2.0" stroke-linejoin="round"/>
<polyline points="722.2,415.6 723.4,411.4 724.3,384.1 725.8,380.8 727.9,376.9 728.6,364.9 730.0,372.1 731.4,366.1 733.1,367.2 734.9,365.7 736.3,353.0 737.8,357.4 739.2,360.5 741.3,363.0 743.4,346.0 744.8,353.1 746.2,358.8 747.6,366.4 749.7,350.7 751.2,352.7 752.6,350.6 754.4,356.3 756.1,363.5 758.2,342.5 759.6,357.2 761.7,353.7 763.1,349.9 764.3,352.2 765.5,352.1 766.7,354.7 768.1,353.2 770.2,377.8 771.6,350.6 773.1,348.2 774.6,345.4 776.1,339.0 777.6,336.4 778.9,343.7 780.1,351.6 781.4,363.8 783.7,339.5 785.9,346.1 787.5,353.6 789.0,358.0 791.2,355.3 792.8,367.3 794.3,374.1 796.6,358.5 797.8,360.4 799.1,367.3 800.3,371.9 801.6,366.8 802.8,360.3 804.1,352.8 805.7,360.7 807.2,369.7 808.7,362.1 810.2,352.8 811.7,358.7 813.2,369.6 815.5,361.9 817.8,371.9 819.3,364.0 820.8,358.2 822.3,351.3 823.7,352.2 825.1,351.5 826.5,351.7 827.7,352.3 828.5,374.1 829.1,365.3 830.9,360.6 833.2,356.9 834.6,356.9 835.9,368.0 837.3,363.8 838.7,367.9 840.9,377.5 841.4,380.2 843.2,375.4 844.5,379.3 845.9,378.6 847.3,374.2 848.7,387.1 849.6,366.2 851.0,362.4 852.3,362.6 853.2,369.8 854.1,386.8 856.0,372.9 857.3,363.0 858.7,383.8 860.1,378.5 861.9,382.9 863.6,384.9 864.9,384.3 866.1,380.7 867.3,383.2 868.5,386.0 869.7,384.1 870.9,385.6 872.1,387.8 873.3,387.3 874.5,386.7 875.8,385.9 877.0,382.9 878.2,384.0 879.4,378.7 881.0,386.3 882.5,388.0 884.0,384.0 885.5,373.9 886.7,378.9 887.9,379.3 889.1,381.5 890.3,377.0 891.6,372.5 892.8,372.9 894.0,376.8 895.2,381.5 896.4,389.6 897.9,384.3 899.4,379.4 901.3,382.9 902.7,382.8 904.1,384.6 905.5,384.1 906.7,386.8 908.0,386.9 909.4,386.9 910.7,385.8 912.4,386.5 914.1,387.9 916.4,384.3 918.1,388.4 919.8,392.8 921.2,391.5 922.7,387.8 924.1,390.3 925.4,390.2 926.8,389.8 928.2,387.5 929.6,388.9 930.9,389.1 932.3,387.8 934.0,395.8 935.8,399.5 938.0,394.0 939.7,395.9 942.0,416.2" fill="none" stroke="#ff0000" stroke-width="1.4" stroke-linejoin="round"/>
<rect x="557" y="613" width="167" height="3" fill="#ff0000"/>
<rect x="942" y="613" width="21" height="3" fill="#ff0000"/>
<rect x="962" y="546" width="2.5" height="3" fill="#ff0000"/>
<rect x="728" y="504" width="20.0" height="3" fill="#ff0000"/>
<rect x="749.2" y="504" width="46.5" height="3" fill="#ff0000"/>
<rect x="803.3" y="504" width="5.7" height="3" fill="#ff0000"/>
<rect x="797.9" y="504" width="2" height="3" fill="#ff0000"/><rect x="798.5" y="504" width="1.2" height="3.5" fill="#ff0000"/>
<rect x="722" y="512" width="7.7" height="3" fill="#ff0000"/>
<rect x="741.2" y="512" width="2.6" height="3" fill="#ff0000"/>
<rect x="746.8" y="512" width="4.0" height="3" fill="#ff0000"/>
<rect x="759.2" y="512" width="2.6" height="3" fill="#ff0000"/>
<rect x="771.1" y="512" width="2.8" height="3" fill="#ff0000"/>
<rect x="780.5" y="512" width="2.4" height="3" fill="#ff0000"/>
<rect x="788" y="512" width="2.7" height="3" fill="#ff0000"/>
<rect x="791.9" y="512" width="13.0" height="3" fill="#ff0000"/>
<rect x="807.3" y="512" width="72.4" height="3" fill="#ff0000"/>
<rect x="890.3" y="512" width="14.7" height="3" fill="#ff0000"/>
<rect x="929" y="512" width="2.9" height="3" fill="#ff0000"/>
<rect x="878" y="520.4" width="13.0" height="2.4" fill="#ff0000"/>
<rect x="904" y="520.4" width="39.8" height="2.4" fill="#ff0000"/>
<text x="761" y="648.5" text-anchor="middle" class="t">Local Time (hour)</text>
</svg></body></html>
